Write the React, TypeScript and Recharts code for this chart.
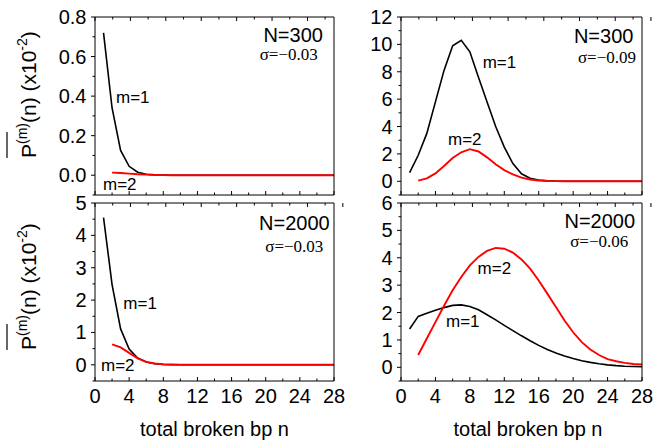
import React from 'react';
import { LineChart, Line, XAxis, YAxis, ReferenceDot } from 'recharts';

// ---------- data ----------
const nValues = [1, 2, 3, 4, 5, 6, 7, 8, 9, 10, 11, 12, 13, 14, 15, 16, 17, 18, 19, 20, 21, 22, 23, 24, 25, 26, 27, 28];
const xTicks = [0, 2, 4, 6, 8, 10, 12, 14, 16, 18, 20, 22, 24, 26, 28];

// N=300, sigma=-0.03
const tlM1 = [0.72, 0.34, 0.125, 0.045, 0.015, 0.005, 0.002, 0.001, 0, 0, 0, 0, 0, 0, 0, 0, 0, 0, 0, 0, 0, 0, 0, 0, 0, 0, 0, 0];
const tlM2 = [null, 0.013, 0.011, 0.008, 0.005, 0.003, 0.0015, 0.0005, 0, 0, 0, 0, 0, 0, 0, 0, 0, 0, 0, 0, 0, 0, 0, 0, 0, 0, 0, 0];
// N=300, sigma=-0.09
const trM1 = [0.63, 1.9, 3.5, 5.8, 8.1, 9.9, 10.3, 9.46, 7.6, 5.8, 4.0, 2.5, 1.3, 0.55, 0.22, 0.09, 0.035, 0.012, 0.004, 0, 0, 0, 0, 0, 0, 0, 0, 0];
const trM2 = [null, 0.05, 0.22, 0.58, 1.12, 1.7, 2.12, 2.35, 2.18, 1.75, 1.25, 0.82, 0.5, 0.27, 0.13, 0.06, 0.025, 0.01, 0.003, 0, 0, 0, 0, 0, 0, 0, 0, 0];
// N=2000, sigma=-0.03
const blM1 = [4.55, 2.48, 1.11, 0.49, 0.21, 0.085, 0.035, 0.013, 0.005, 0.002, 0, 0, 0, 0, 0, 0, 0, 0, 0, 0, 0, 0, 0, 0, 0, 0, 0, 0];
const blM2 = [null, 0.63, 0.54, 0.37, 0.2, 0.09, 0.04, 0.015, 0.005, 0.002, 0, 0, 0, 0, 0, 0, 0, 0, 0, 0, 0, 0, 0, 0, 0, 0, 0, 0];
// N=2000, sigma=-0.06
const brM1 = [1.4, 1.86, 1.97, 2.08, 2.18, 2.26, 2.28, 2.22, 2.1, 1.92, 1.73, 1.53, 1.34, 1.15, 0.97, 0.8, 0.65, 0.52, 0.41, 0.32, 0.24, 0.18, 0.13, 0.09, 0.06, 0.04, 0.03, 0.02];
const brM2 = [null, 0.45, 1.05, 1.65, 2.25, 2.81, 3.3, 3.72, 4.03, 4.25, 4.36, 4.33, 4.19, 3.94, 3.6, 3.17, 2.69, 2.2, 1.71, 1.28, 0.92, 0.65, 0.45, 0.3, 0.22, 0.16, 0.12, 0.1];

const tlYTicks = [-0.1, 0, 0.1, 0.2, 0.3, 0.4, 0.5, 0.6, 0.7, 0.8];
const trYTicks = [-1, 0, 1, 2, 3, 4, 5, 6, 7, 8, 9, 10, 11, 12];
const blYTicks = [-0.5, 0, 0.5, 1, 1.5, 2, 2.5, 3, 3.5, 4, 4.5, 5];
const brYTicks = [-0.5, 0, 0.5, 1, 1.5, 2, 2.5, 3, 3.5, 4, 4.5, 5, 5.5, 6];

const xTitle = 'total broken bp n';

// ---------- helpers ----------
const FONT = '"Liberation Sans", Arial, Helvetica, sans-serif';
const SERIF = '"Liberation Serif", "Times New Roman", Times, serif';

const rows = (m1: (number | null)[], m2: (number | null)[]) =>
  nValues.map((n, i) => ({ n, m1: m1[i], m2: m2[i] }));

const isMajor = (v: number, step: number) => {
  const r = v / step;
  return Math.abs(r - Math.round(r)) < 1e-6;
};

const bottomTick = (showLabels: boolean) => (props: any) => {
  const { x, y, payload } = props;
  const v = payload.value;
  const major = isMajor(v, 4);
  return (
    <g>
      <line x1={x} x2={x} y1={y} y2={y - (major ? 4 : 2.5)} stroke="#000" strokeWidth={1} />
      {showLabels && major ? (
        <text x={x} y={y + 22} textAnchor="middle" fontSize={20} fontFamily={FONT} fill="#000">
          {v}
        </text>
      ) : null}
    </g>
  );
};

const topTick = (props: any) => {
  const { x, y, payload } = props;
  const major = isMajor(payload.value, 4);
  return <line x1={x} x2={x} y1={y} y2={y + (major ? 4 : 2.5)} stroke="#000" strokeWidth={1} />;
};

const leftTick = (step: number, decimals: number) => (props: any) => {
  const { x, y, payload } = props;
  const v = payload.value;
  const major = isMajor(v, step);
  return (
    <g>
      <line x1={x - (major ? 4 : 2.5)} x2={x} y1={y} y2={y} stroke="#000" strokeWidth={1} />
      {major ? (
        <text x={x - 8.5} y={y + 7} textAnchor="end" fontSize={20} fontFamily={FONT} fill="#000">
          {v.toFixed(decimals)}
        </text>
      ) : null}
    </g>
  );
};

const rightTick = (step: number) => (props: any) => {
  const { x, y, payload } = props;
  const major = isMajor(payload.value, step);
  return <line x1={x - (major ? 4 : 2.5)} x2={x} y1={y} y2={y} stroke="#000" strokeWidth={1} />;
};

const yTitle = (fromBottom: number) => (props: any) => {
  const vb = props.viewBox;
  const bx = vb.x + 35.5;
  const sy = vb.y + vb.height - fromBottom;
  return (
    <g transform={`translate(${bx},${sy}) rotate(-90)`}>
      <line x1={0} x2={26} y1={-28.5} y2={-28.5} stroke="#000" strokeWidth={1.2} />
      <text x={0} y={0} fontSize={21} fontFamily={FONT} fill="#000">
        <tspan>P</tspan>
        <tspan fontSize={14} dy={-9}>(m)</tspan>
        <tspan fontSize={21} dy={9}>(n) (x10</tspan>
        <tspan fontSize={14} dy={-9}>-2</tspan>
        <tspan fontSize={21} dy={9}>)</tspan>
      </text>
    </g>
  );
};

const xTitleLabel = (dx: number) => (props: any) => {
  const vb = props.viewBox;
  return (
    <text x={vb.x + vb.width / 2 + dx} y={vb.y + 55} textAnchor="middle" fontSize={20} fontFamily={FONT} fill="#000">
      {xTitle}
    </text>
  );
};

type Note = { n: number; v: number; text: string; anchor: 'start' | 'end'; size: number; serif?: boolean };

const noteLabel = (note: Note) => (props: any) => {
  const vb = props.viewBox;
  const fam = note.serif ? SERIF : FONT;
  return (
    <text x={vb.x} y={vb.y} textAnchor={note.anchor} fontSize={note.size} fontFamily={fam} style={{ fontFamily: fam }} fill="#000">
      {note.text}
    </text>
  );
};

type PanelProps = {
  left: number;
  top: number;
  width: number;
  height: number;
  margin: { top: number; right: number; bottom: number; left: number };
  yWidth: number;
  data: any[];
  yDomain: [number, number];
  yTicks: number[];
  yStep: number;
  decimals: number;
  showX: boolean;
  titleFromBottom?: number;
  xTitleDx?: number;
  notes: Note[];
};

function Panel(p: PanelProps) {
  return (
    <div style={{ position: 'absolute', left: p.left, top: p.top, width: p.width, height: p.height, overflow: 'hidden' }}>
      <LineChart width={p.width} height={p.height} data={p.data} margin={p.margin}>
        <XAxis dataKey="n" type="number" domain={[0, 28]} ticks={xTicks} interval={0} height={1} tickSize={0} tickMargin={0} tickLine={false}
          axisLine={{ stroke: '#000', strokeWidth: 1 }} tick={bottomTick(p.showX)} label={p.showX ? xTitleLabel(p.xTitleDx || 0) : undefined} />
        <XAxis xAxisId="top" orientation="top" type="number" domain={[0, 28]} ticks={xTicks} interval={0} height={1} tickSize={0} tickMargin={0} tickLine={false}
          axisLine={{ stroke: '#000', strokeWidth: 1 }} tick={topTick} />
        <YAxis type="number" domain={p.yDomain} ticks={p.yTicks} interval={0} width={p.yWidth} tickSize={0} tickMargin={0} tickLine={false}
          axisLine={{ stroke: '#000', strokeWidth: 1 }} tick={leftTick(p.yStep, p.decimals)}
          label={p.titleFromBottom !== undefined ? yTitle(p.titleFromBottom) : undefined} />
        <YAxis yAxisId="right" orientation="right" type="number" domain={p.yDomain} ticks={p.yTicks} interval={0} width={1} tickSize={0} tickMargin={0} tickLine={false}
          axisLine={{ stroke: '#000', strokeWidth: 1 }} tick={rightTick(p.yStep)} />
        <Line dataKey="m1" stroke="#000" strokeWidth={1.6} dot={false} type="linear" isAnimationActive={false} />
        <Line dataKey="m2" stroke="#f00" strokeWidth={1.9} dot={false} type="linear" isAnimationActive={false} />
        {p.notes.map((note, i) => (
          <ReferenceDot key={i} x={note.n} y={note.v} r={0} fill="none" stroke="none" label={noteLabel(note)} />
        ))}
      </LineChart>
    </div>
  );
}

export default function App() {
  return (
    <div style={{ position: 'absolute', left: 0, top: 0, width: 653, height: 443, background: '#fff' }}>
      <Panel left={0} top={0} width={340} height={200} margin={{ top: 16, right: 5, bottom: 4, left: 0 }} yWidth={95}
        data={rows(tlM1, tlM2)} yDomain={[-0.1, 0.8]} yTicks={tlYTicks} yStep={0.2} decimals={1} showX={false} titleFromBottom={37}
        notes={[
          { n: 2.46, v: 0.365, text: 'm=1', anchor: 'start', size: 17 },
          { n: 0.94, v: -0.076, text: 'm=2', anchor: 'start', size: 17 },
          { n: 26.7, v: 0.673, text: 'N=300', anchor: 'end', size: 20 },
          { n: 26.1, v: 0.582, text: 'σ=−0.03', anchor: 'end', size: 17, serif: true },
        ]} />
      <Panel left={340} top={0} width={313} height={200} margin={{ top: 16, right: 10, bottom: 4, left: 0 }} yWidth={61}
        data={rows(trM1, trM2)} yDomain={[-1, 12]} yTicks={trYTicks} yStep={2} decimals={0} showX={false}
        notes={[
          { n: 9.49, v: 8.29, text: 'm=1', anchor: 'start', size: 17 },
          { n: 5.46, v: 2.63, text: 'm=2', anchor: 'start', size: 17 },
          { n: 27.0, v: 10.07, text: 'N=300', anchor: 'end', size: 20 },
          { n: 27.3, v: 8.65, text: 'σ=−0.09', anchor: 'end', size: 17, serif: true },
        ]} />
      <Panel left={0} top={190} width={348} height={253} margin={{ top: 12, right: 13, bottom: 61, left: 0 }} yWidth={95}
        data={rows(blM1, blM2)} yDomain={[-0.5, 5]} yTicks={blYTicks} yStep={1} decimals={0} showX={true} xTitleDx={0} titleFromBottom={31}
        notes={[
          { n: 3.32, v: 1.73, text: 'm=1', anchor: 'start', size: 17 },
          { n: 0.7, v: -0.19, text: 'm=2', anchor: 'start', size: 17 },
          { n: 27.5, v: 4.16, text: 'N=2000', anchor: 'end', size: 20 },
          { n: 26.75, v: 3.49, text: 'σ=−0.03', anchor: 'end', size: 17, serif: true },
        ]} />
      <Panel left={348} top={190} width={305} height={253} margin={{ top: 12, right: 10, bottom: 61, left: 0 }} yWidth={53}
        data={rows(brM1, brM2)} yDomain={[-0.5, 6]} yTicks={brYTicks} yStep={1} decimals={0} showX={true} xTitleDx={6.5}
        notes={[
          { n: 8.9, v: 3.4, text: 'm=2', anchor: 'start', size: 17 },
          { n: 5.23, v: 1.47, text: 'm=1', anchor: 'start', size: 17 },
          { n: 27.2, v: 5.07, text: 'N=2000', anchor: 'end', size: 20 },
          { n: 26.4, v: 4.4, text: 'σ=−0.06', anchor: 'end', size: 17, serif: true },
        ]} />
    </div>
  );
}
